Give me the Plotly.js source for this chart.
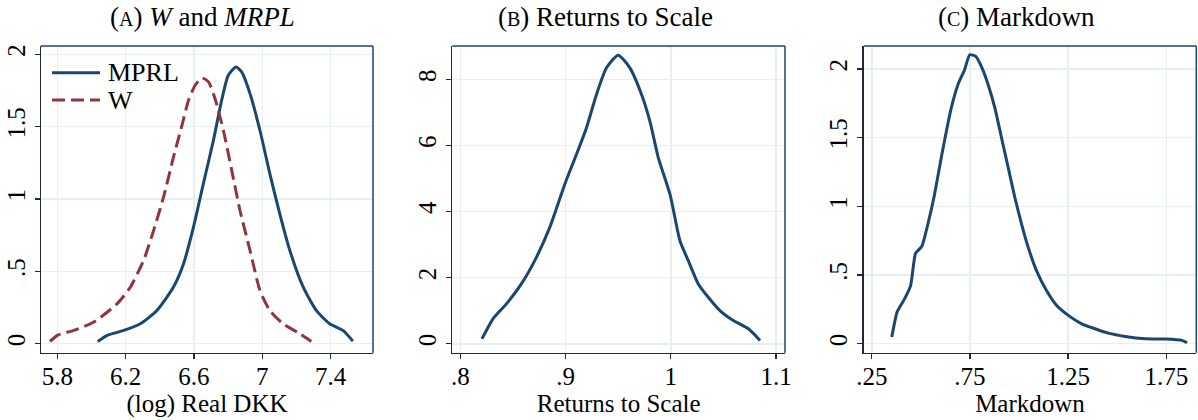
<!DOCTYPE html>
<html>
<head>
<meta charset="utf-8">
<script src="https://cdn.plot.ly/plotly-3.0.1.min.js"></script>
<style>html,body{margin:0;padding:0;background:#fff;}#chart{width:1198px;height:420px;}</style>
</head>
<body>
<div id="chart"></div>
<script>
// Panel A: W and MRPL densities
const mprlX = [6.037, 6.092, 6.189, 6.286, 6.383, 6.480, 6.539, 6.597, 6.655, 6.714, 6.762, 6.801, 6.846, 6.879, 6.928, 6.986, 7.044, 7.102, 7.161, 7.239, 7.316, 7.394, 7.472, 7.530];
const mprlY = [0.016, 0.058, 0.092, 0.138, 0.230, 0.392, 0.553, 0.806, 1.106, 1.406, 1.682, 1.855, 1.912, 1.878, 1.728, 1.475, 1.175, 0.899, 0.645, 0.392, 0.230, 0.138, 0.092, 0.018];
const wX = [5.757, 5.800, 5.897, 6.014, 6.150, 6.228, 6.305, 6.364, 6.422, 6.480, 6.530, 6.568, 6.607, 6.646, 6.685, 6.723, 6.772, 6.821, 6.869, 6.928, 6.986, 7.044, 7.122, 7.219, 7.287];
const wY = [0.016, 0.058, 0.092, 0.150, 0.276, 0.392, 0.576, 0.783, 1.014, 1.290, 1.510, 1.682, 1.786, 1.836, 1.809, 1.694, 1.475, 1.198, 0.922, 0.645, 0.369, 0.230, 0.138, 0.069, 0.016];
// Panel B: Returns to scale density
const rtsX = [0.8206, 0.8311, 0.8438, 0.8580, 0.8723, 0.8850, 0.8993, 0.9104, 0.9199, 0.9294, 0.9389, 0.9500, 0.9611, 0.9722, 0.9801, 0.9881, 0.9992, 1.0087, 1.0166, 1.0261, 1.0356, 1.0467, 1.0594, 1.0737, 1.0848];
const rtsY = [0.151, 0.755, 1.207, 1.811, 2.616, 3.521, 4.829, 5.734, 6.539, 7.545, 8.350, 8.732, 8.350, 7.545, 6.740, 5.634, 4.527, 3.119, 2.515, 1.811, 1.408, 1.006, 0.704, 0.453, 0.101];
// Panel C: Markdown density
const mdX = [0.352, 0.379, 0.417, 0.448, 0.473, 0.505, 0.536, 0.570, 0.604, 0.655, 0.689, 0.723, 0.749, 0.780, 0.812, 0.843, 0.877, 0.911, 0.945, 0.979, 1.013, 1.047, 1.089, 1.140, 1.192, 1.251, 1.319, 1.387, 1.455, 1.541, 1.643, 1.745, 1.830, 1.856];
const mdY = [0.048, 0.230, 0.326, 0.423, 0.658, 0.709, 0.871, 1.088, 1.354, 1.717, 1.886, 1.995, 2.104, 2.092, 2.007, 1.886, 1.717, 1.499, 1.282, 1.064, 0.871, 0.701, 0.532, 0.387, 0.278, 0.206, 0.145, 0.109, 0.077, 0.053, 0.036, 0.034, 0.024, 0.007];

// Tick values and labels
const aXTicks = [5.8, 6.2, 6.6, 7.0, 7.4];
const aXLabels = ['5.8', '6.2', '6.6', '7', '7.4'];
const aYTicks = [0, 0.5, 1, 1.5, 2];
const aYLabels = ['0', '.5', '1', '1.5', '2'];
const bXTicks = [0.8, 0.9, 1.0, 1.1];
const bXLabels = ['.8', '.9', '1', '1.1'];
const bYTicks = [0, 2, 4, 6, 8];
const bYLabels = ['0', '2', '4', '6', '8'];
const cXTicks = [0.25, 0.75, 1.25, 1.75];
const cXLabels = ['.25', '.75', '1.25', '1.75'];
const cYTicks = [0, 0.5, 1, 1.5, 2];
const cYLabels = ['0', '.5', '1', '1.5', '2'];

const seriesNames = ['MPRL', 'W'];
const titles = [
  '(<span style="font-size:20px">A</span>) <i>W</i> and <i>MRPL</i>',
  '(<span style="font-size:20px">B</span>) Returns to Scale',
  '(<span style="font-size:20px">C</span>) Markdown'
];
const xTitles = ['(log) Real DKK', 'Returns to Scale', 'Markdown'];

const NAVY = '#1a476f';
const MAROON = '#90353b';
const AXIS = '#1e2a36';
const GRID = '#e6eff1';
const FONT = 'Liberation Serif, Times New Roman, serif';
const W = 1198, H = 420;

const traces = [
  {x: mprlX, y: mprlY, name: seriesNames[0], type: 'scatter', mode: 'lines', xaxis: 'x', yaxis: 'y',
   line: {color: NAVY, width: 3, shape: 'spline', smoothing: 0.6}},
  {x: wX, y: wY, name: seriesNames[1], type: 'scatter', mode: 'lines', xaxis: 'x', yaxis: 'y',
   line: {color: MAROON, width: 3, dash: '13px,6px', shape: 'spline', smoothing: 0.6}},
  {x: rtsX, y: rtsY, type: 'scatter', mode: 'lines', xaxis: 'x2', yaxis: 'y2',
   line: {color: NAVY, width: 3, shape: 'spline', smoothing: 0.6}},
  {x: mdX, y: mdY, type: 'scatter', mode: 'lines', xaxis: 'x3', yaxis: 'y3',
   line: {color: NAVY, width: 3, shape: 'spline', smoothing: 0.5}}
];

const yDom = [1 - 352.7 / H, 1 - 46 / H];
function xAx(dom, range, vals, labels, title, anchor) {
  return {
    domain: dom, range: range, anchor: anchor,
    tickmode: 'array', tickvals: vals, ticktext: labels,
    showgrid: true, gridcolor: GRID, gridwidth: 1.5, zeroline: false,
    showline: true, linecolor: AXIS, linewidth: 1.5,
    ticks: 'outside', ticklen: 5, tickwidth: 1.2, tickcolor: AXIS,
    ticklabelstandoff: -4,
    tickfont: {family: FONT, size: 25, color: '#000'},
    title: {text: title, font: {family: FONT, size: 25, color: '#000'}, standoff: 0}
  };
}
function yAx(range, vals, labels, anchor) {
  return {
    domain: yDom, range: range, anchor: anchor,
    tickmode: 'array', tickvals: vals, ticktext: labels, tickangle: -90,
    showgrid: true, gridcolor: GRID, gridwidth: 1.5, zeroline: false,
    showline: true, linecolor: AXIS, linewidth: 1.5,
    ticks: 'outside', ticklen: 5, tickwidth: 1.2, tickcolor: AXIS,
    tickfont: {family: FONT, size: 25, color: '#000'}
  };
}

const shapes = [];
['', '2', '3'].forEach(function (s) {
  shapes.push({type: 'line', xref: 'x' + s + ' domain', yref: 'y' + s + ' domain', x0: 0, x1: 1, y0: 1, y1: 1, line: {color: NAVY, width: 1.5}});
  shapes.push({type: 'line', xref: 'x' + s + ' domain', yref: 'y' + s + ' domain', x0: 1, x1: 1, y0: 0, y1: 1, line: {color: NAVY, width: 1.5}});
});
// legend keys (panel A, top-left)
const legendColors = [NAVY, MAROON];
const legendDash = ['solid', '13px,6px'];
const legendRowY = [72.7, 100];
seriesNames.forEach(function (n, i) {
  shapes.push({type: 'line', xref: 'paper', yref: 'paper', x0: 52 / W, x1: 100 / W,
               y0: 1 - legendRowY[i] / H, y1: 1 - legendRowY[i] / H,
               line: {color: legendColors[i], width: 3, dash: legendDash[i]}});
});

const titleX = [202.5, 605, 1016];
const annotations = titles.map(function (t, i) {
  return {text: t, xref: 'paper', yref: 'paper', x: titleX[i] / W, y: 1 - 17 / H,
          xanchor: 'center', yanchor: 'middle', showarrow: false,
          font: {family: FONT, size: 27, color: '#000'}};
});
seriesNames.forEach(function (n, i) {
  annotations.push({text: n, xref: 'paper', yref: 'paper', x: 106 / W, y: 1 - legendRowY[i] / H,
                    xanchor: 'left', yanchor: 'middle', showarrow: false,
                    font: {family: FONT, size: 26, color: '#000'}});
});

const layout = {
  width: W, height: H,
  margin: {l: 0, r: 0, t: 0, b: 0},
  paper_bgcolor: '#fff', plot_bgcolor: '#fff',
  font: {family: FONT, color: '#000'},
  showlegend: false,
  xaxis: xAx([41 / W, 373 / W], [5.7045, 7.648], aXTicks, aXLabels, xTitles[0], 'y'),
  yaxis: yAx([-0.062, 2.057], aYTicks, aYLabels, 'x'),
  xaxis2: xAx([452.3 / W, 785 / W], [0.7924, 1.1085], bXTicks, bXLabels, xTitles[1], 'y2'),
  yaxis2: yAx([-0.27, 9.01], bYTicks, bYLabels, 'x2'),
  xaxis3: xAx([863.7 / W, 1196.3 / W], [0.209, 1.903], cXTicks, cXLabels, xTitles[2], 'y3'),
  yaxis3: yAx([-0.0656, 2.1675], cYTicks, cYLabels, 'x3'),
  shapes: shapes,
  annotations: annotations
};

Plotly.newPlot('chart', traces, layout, {staticPlot: true, displayModeBar: false});
</script>
</body>
</html>
